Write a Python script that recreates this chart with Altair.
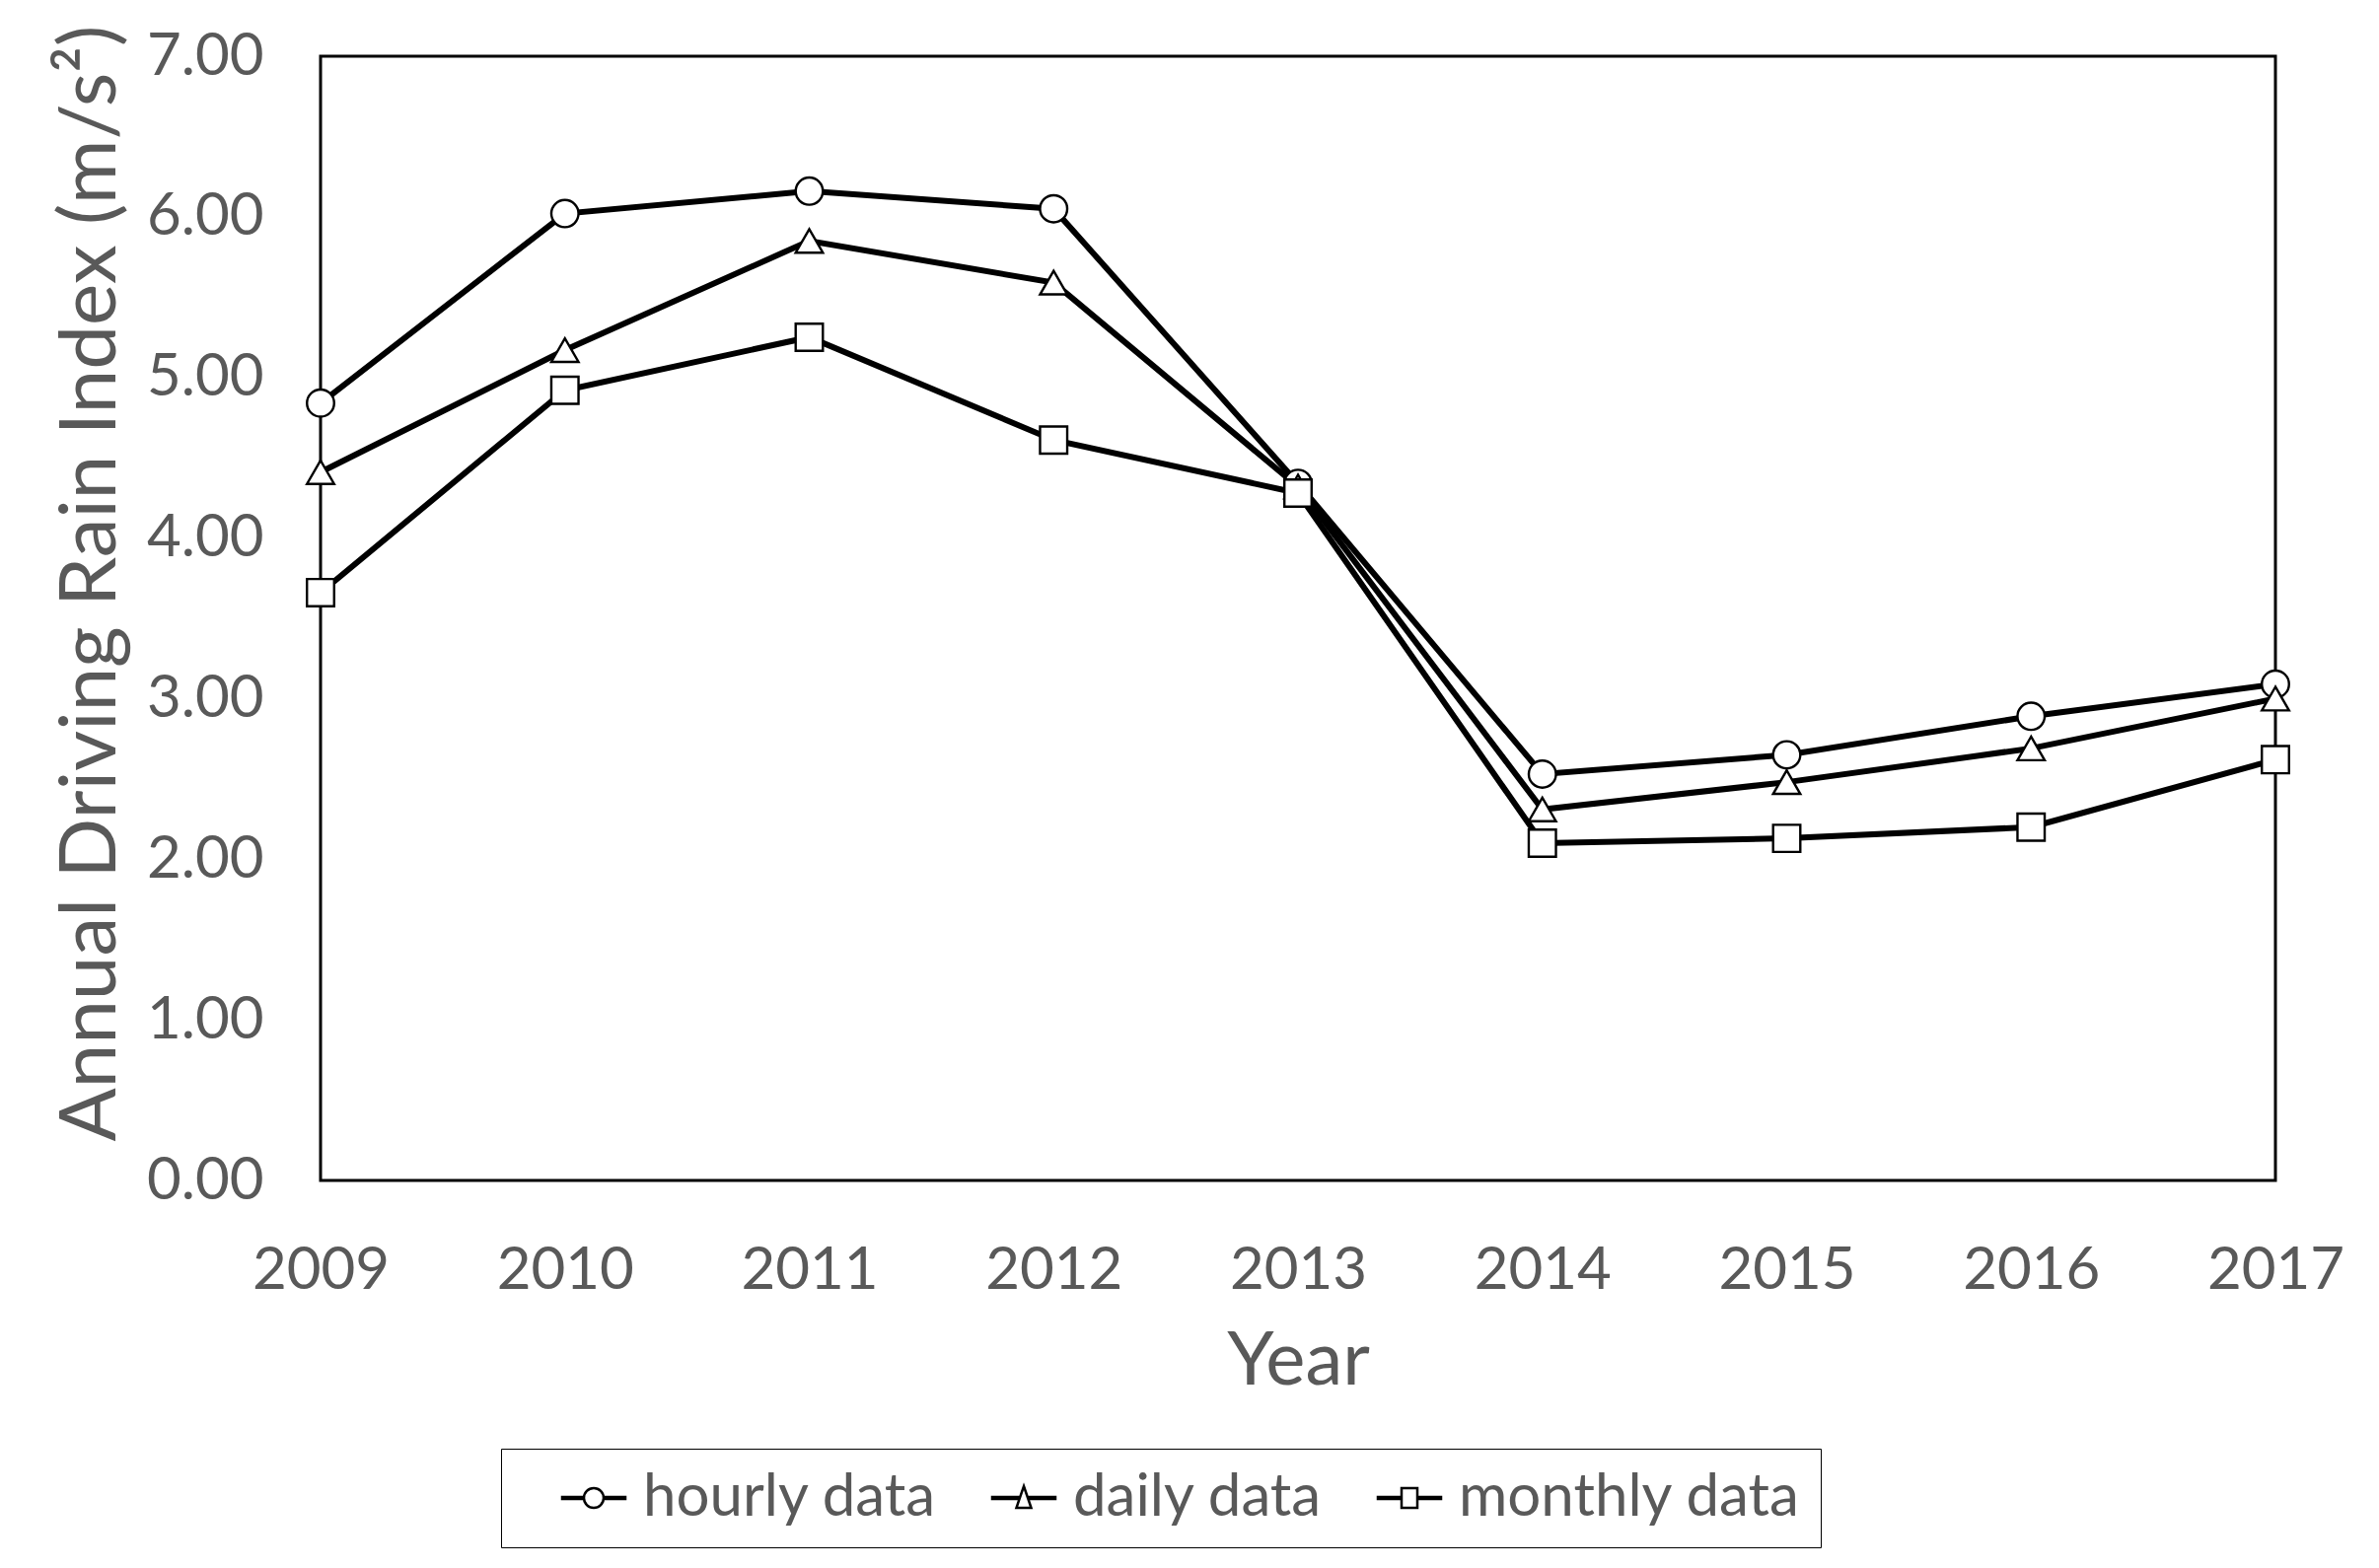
import altair as alt
import pandas as pd

years = [2009, 2010, 2011, 2012, 2013, 2014, 2015, 2016, 2017]
series_names = ["hourly data", "daily data", "monthly data"]
hourly = [4.84, 6.02, 6.16, 6.05, 4.34, 2.53, 2.65, 2.89, 3.09]
daily = [4.41, 5.17, 5.85, 5.59, 4.32, 2.31, 2.48, 2.69, 3.00]
monthly = [3.66, 4.92, 5.25, 4.61, 4.28, 2.10, 2.13, 2.20, 2.62]
y_ticks = [0, 1, 2, 3, 4, 5, 6, 7]

rows = []
for name, vals in zip(series_names, [hourly, daily, monthly]):
    for yr, v in zip(years, vals):
        rows.append({"Year": yr, "value": v, "series": name, "legend_series": name})
df = pd.DataFrame(rows)

FONT = "Lato"
TXT = "#595959"

x = alt.X("Year:Q", scale=alt.Scale(domain=[2009, 2017], nice=False, zero=False),
          axis=alt.Axis(values=years, format="d", title="Year", ticks=False, domain=False,
                        grid=False, labelPadding=62, labelFontSize=60, labelColor=TXT,
                        labelFlush=False, labelOverlap=False,
                        labelFont=FONT, titleFont=FONT, titleFontSize=76, titleColor=TXT,
                        titleFontWeight="normal", titleY=183, titleBaseline="middle"))
y = alt.Y("value:Q", scale=alt.Scale(domain=[0, 7], nice=False),
          axis=alt.Axis(values=y_ticks, format=".2f", title="Annual Driving Rain Index (m/s²)",
                        ticks=False, domain=False, grid=False, labelPadding=58, labelFontSize=60,
                        labelColor=TXT, labelFont=FONT, titleFont=FONT, titleFontSize=80,
                        titleColor=TXT, titleFontWeight="normal", titleX=-233, titleY=534,
                        titleBaseline="middle", titleAlign="center", titleAngle=270))

lines = alt.Chart(df).mark_line(color="black", strokeWidth=6).encode(
    x=x, y=y, detail="series:N"
)

points = alt.Chart(df).mark_point(filled=True, fill="white", stroke="black", strokeWidth=2.4,
                                  size=760, opacity=1).encode(
    x=x, y=y,
    shape=alt.Shape("series:N",
                    scale=alt.Scale(domain=series_names, range=["circle", "triangle-up", "square"]),
                    legend=None),
)

circle_p = "M-3.2,-0.1H-1V0.1H-3.2Z M1,-0.1H3.2V0.1H1Z M1,0A1,1,0,1,1,-1,0A1,1,0,1,1,1,0Z"
tri_p = "M-3.2,-0.1H-0.6V0.1H-3.2Z M0.6,-0.1H3.2V0.1H0.6Z M0,-1.2L0.75,1H-0.75Z"
sq_p = "M-3.2,-0.1H-0.8V0.1H-3.2Z M0.8,-0.1H3.2V0.1H0.8Z M-0.8,-1H0.8V1H-0.8Z"

legend_layer = alt.Chart(df).transform_filter("datum.value < -100").mark_point(
    filled=False, color="black", strokeWidth=2.5, size=400, opacity=1).encode(
    x=x, y=y,
    shape=alt.Shape("legend_series:N",
                    scale=alt.Scale(domain=series_names, range=[circle_p, tri_p, sq_p]),
                    legend=alt.Legend(title=None, orient="none", legendX=183, legendY=1412,
                                      direction="horizontal", strokeColor="black",
                                      padding=20, labelFont=FONT, labelFontSize=60,
                                      labelColor=TXT, labelLimit=0, symbolSize=400,
                                      symbolStrokeWidth=2.5,
                                      symbolStrokeColor="black",
                                      symbolOpacity=1,
                                      labelOffset=20, symbolOffset=44, columnPadding=14)),
)

chart = (lines + points + legend_layer).resolve_scale(shape="independent").properties(
    width=1982, height=1140,
    padding={"left": 317, "top": 49, "right": 97, "bottom": 385},
    autosize=alt.AutoSizeParams(type="none"),
    background="white",
).configure_view(stroke="black", strokeWidth=3)

chart.save("out.html", embed_options={"renderer": "svg", "actions": False})
